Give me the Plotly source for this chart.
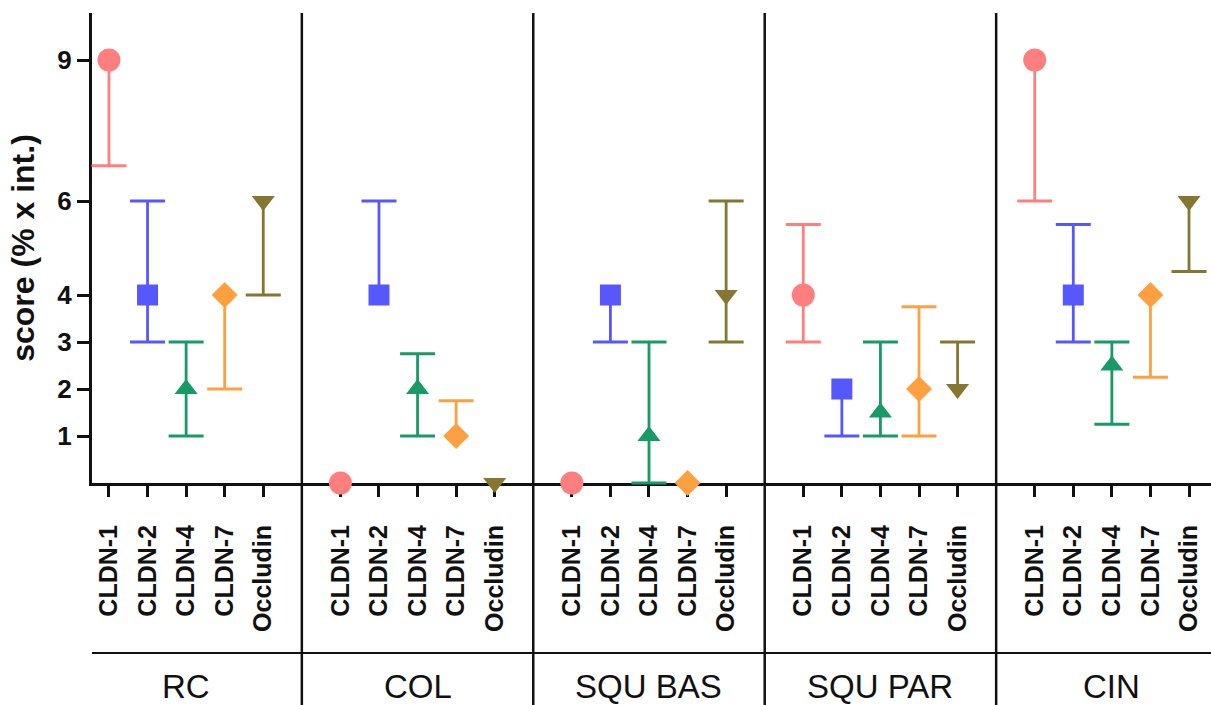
import plotly.graph_objects as go

groups = ["RC", "COL", "SQU BAS", "SQU PAR", "CIN"]
proteins = ["CLDN-1", "CLDN-2", "CLDN-4", "CLDN-7", "Occludin"]

# per protein, values across groups (RC, COL, SQU BAS, SQU PAR, CIN)
cldn1_val = [9, 0, 0, 4, 9]
cldn1_lo = [6.75, 0, 0, 3, 6]
cldn1_hi = [9, 0, 0, 5.5, 9]

cldn2_val = [4, 4, 4, 2, 4]
cldn2_lo = [3, 4, 3, 1, 3]
cldn2_hi = [6, 6, 4, 2, 5.5]

cldn4_val = [2, 2, 1, 1.5, 2.5]
cldn4_lo = [1, 1, 0, 1, 1.25]
cldn4_hi = [3, 2.75, 3, 3, 3]

cldn7_val = [4, 1, 0, 2, 4]
cldn7_lo = [2, 1, 0, 1, 2.25]
cldn7_hi = [4, 1.75, 0, 3.75, 4]

occl_val = [6, 0, 4, 2, 6]
occl_lo = [4, 0, 3, 2, 4.5]
occl_hi = [6, 0, 6, 3, 6]

y_ticks = [1, 2, 3, 4, 6, 9]

series = [
    (cldn1_val, cldn1_lo, cldn1_hi),
    (cldn2_val, cldn2_lo, cldn2_hi),
    (cldn4_val, cldn4_lo, cldn4_hi),
    (cldn7_val, cldn7_lo, cldn7_hi),
    (occl_val, occl_lo, occl_hi),
]
colors = ["#FF7F7F", "#5757FF", "#179A68", "#FFA040", "#857632"]
symbols = ["circle", "square", "triangle-up", "diamond", "triangle-down"]
sizes = [23, 21, 20, 20, 20]

slot = len(proteins) + 1
FONT = "Liberation Sans, Arial, sans-serif"

fig = go.Figure()
line_traces, cap_traces, point_traces = [], [], []
for p, (vals, los, his) in enumerate(series):
    xs = [g * slot + p for g in range(len(groups))]
    lx, ly, cx, cy = [], [], [], []
    for x, v, lo, hi in zip(xs, vals, los, his):
        if hi > lo:
            lx += [x, x, None]
            ly += [lo, hi, None]
        for end in (lo, hi):
            if end != v:
                cx.append(x)
                cy.append(end)
    line_traces.append(go.Scatter(x=lx, y=ly, mode="lines", cliponaxis=False,
                                  line=dict(color=colors[p], width=2.8),
                                  showlegend=False, hoverinfo="skip"))
    cap_traces.append(go.Scatter(x=cx, y=cy, mode="markers", cliponaxis=False,
                                 marker=dict(symbol="line-ew", size=25,
                                             line=dict(color=colors[p], width=2.8)),
                                 showlegend=False, hoverinfo="skip"))
    point_traces.append(go.Scatter(x=xs, y=vals, mode="markers", cliponaxis=False,
                                   name=proteins[p],
                                   marker=dict(symbol=symbols[p], size=sizes[p],
                                               color=colors[p], line=dict(width=0)),
                                   showlegend=False))
for t in line_traces + cap_traces + point_traces:
    fig.add_trace(t)

tickvals, ticktext = [], []
for g in range(len(groups)):
    for p, name in enumerate(proteins):
        tickvals.append(g * slot + p)
        ticktext.append(name)

W, H = 1211, 705
ml, mr, mt, mb = 92, 0, 13, 222
ph = H - mt - mb

def py(pix):
    return (H - mb - pix) / ph

shapes = []
for g in range(len(groups) - 1):
    xsep = g * slot + len(proteins)
    shapes.append(dict(type="line", xref="x", yref="paper", x0=xsep, x1=xsep,
                       y0=py(H), y1=1, line=dict(color="#111", width=2.5), layer="below"))
shapes.append(dict(type="line", xref="paper", yref="paper", x0=0, x1=1,
                   y0=py(653), y1=py(653), line=dict(color="#111", width=2)))

annotations = []
for g, name in enumerate(groups):
    annotations.append(dict(x=g * slot + (len(proteins) - 1) / 2, xref="x",
                            y=py(686), yref="paper", text=name, showarrow=False,
                            xanchor="center", yanchor="middle",
                            font=dict(family=FONT, size=33, color="#111")))

fig.update_layout(
    width=W, height=H,
    margin=dict(l=ml, r=mr, t=mt, b=mb),
    paper_bgcolor="white", plot_bgcolor="white",
    shapes=shapes, annotations=annotations,
    font=dict(family=FONT, color="#111"),
)
fig.update_xaxes(
    range=[-0.44, (len(groups) - 1) * slot + len(proteins) - 1 + 0.57],
    tickvals=tickvals, ticktext=ticktext, tickangle=-90,
    tickfont=dict(family=FONT, size=25, weight="bold", color="#111"),
    showline=True, linecolor="#111", linewidth=3,
    ticks="outside", ticklen=11, tickwidth=3, tickcolor="#111",
    showgrid=False, zeroline=False, layer="below traces",
    ticklabelstandoff=18,
)
fig.update_yaxes(
    range=[0, 10], tickvals=y_ticks, ticktext=[str(v) for v in y_ticks],
    tickfont=dict(family=FONT, size=26, weight="bold", color="#111"),
    showline=True, linecolor="#111", linewidth=3,
    ticks="outside", ticklen=12, tickwidth=3, tickcolor="#111",
    showgrid=False, zeroline=False, layer="below traces",
    title=dict(text="score (% x int.)", standoff=14,
               font=dict(family=FONT, size=32, weight="bold", color="#111")),
)

fig.write_html("out.html", config={"displayModeBar": False},
               post_script="document.body.style.margin='0';document.body.style.overflow='hidden';")
